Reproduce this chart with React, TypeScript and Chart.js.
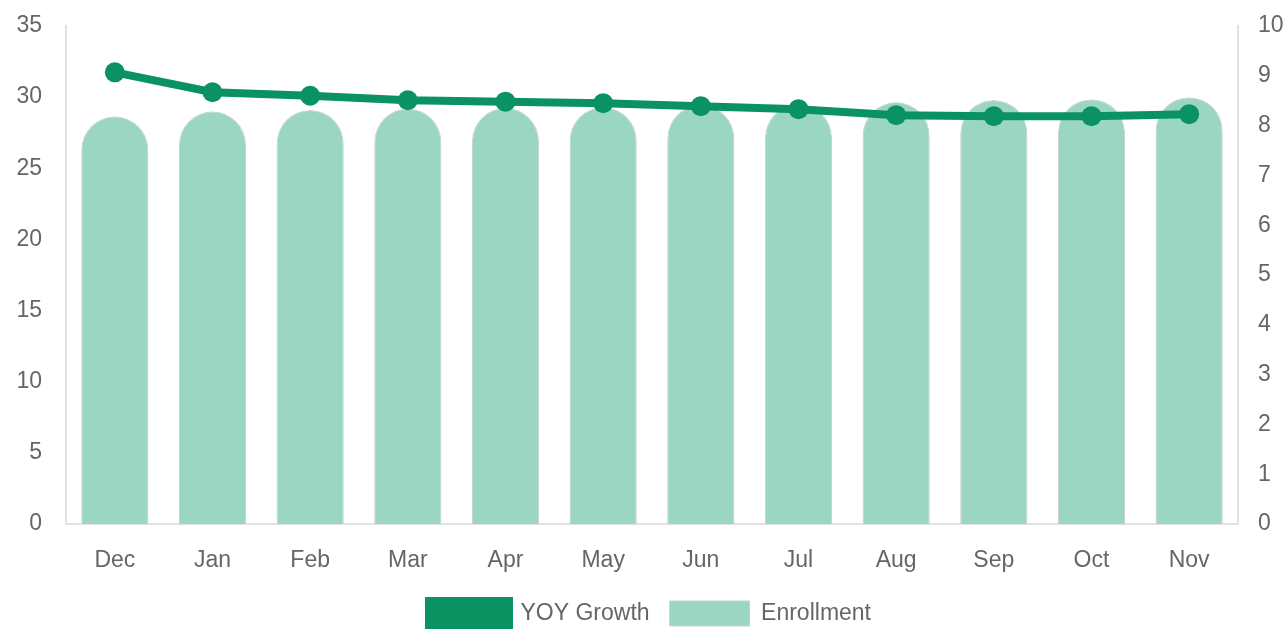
import React, { useEffect, useRef } from "react";
import { Chart, registerables } from "chart.js";

Chart.register(...registerables);

const categories = ["Dec", "Jan", "Feb", "Mar", "Apr", "May", "Jun", "Jul", "Aug", "Sep", "Oct", "Nov"];
const yoyGrowth = [9.07, 8.67, 8.6, 8.51, 8.48, 8.45, 8.39, 8.33, 8.21, 8.19, 8.19, 8.23];
const enrollment = [28.65, 29.0, 29.1, 29.2, 29.25, 29.3, 29.45, 29.5, 29.65, 29.8, 29.85, 30.0];
const leftTicks = [0, 5, 10, 15, 20, 25, 30, 35];
const rightTicks = [0, 1, 2, 3, 4, 5, 6, 7, 8, 9, 10];

export default function App() {
  const ref = useRef<HTMLCanvasElement | null>(null);
  useEffect(() => {
    if (!ref.current) return;
    const font = { family: "'Liberation Sans', Arial, Helvetica, sans-serif", size: 23 };
    const chart = new Chart(ref.current, {
      type: "bar",
      data: {
        labels: categories,
        datasets: [
          {
            type: "line",
            label: "YOY Growth",
            data: yoyGrowth,
            yAxisID: "y1",
            borderColor: "#0b9263",
            backgroundColor: "#0b9263",
            borderWidth: 8,
            pointRadius: 10,
            pointHoverRadius: 10,
            pointBackgroundColor: "#0b9263",
            pointBorderWidth: 0,
            tension: 0,
          },
          {
            type: "bar",
            label: "Enrollment",
            data: enrollment,
            yAxisID: "y",
            backgroundColor: "#9ad6c1",
            borderColor: "#c9d2cf",
            borderWidth: 1,
            borderRadius: 100,
            borderSkipped: "bottom",
            categoryPercentage: 0.8,
            barPercentage: 0.86,
          },
        ],
      },
      options: {
        animation: false,
        responsive: true,
        maintainAspectRatio: false,
        layout: { autoPadding: false, padding: { top: 26, left: 16, right: 3, bottom: 4 } },
        plugins: {
          tooltip: { enabled: false },
          legend: {
            position: "bottom",
            labels: {
              boxWidth: 80,
              boxHeight: 25,
              font,
              color: "#666",
              padding: 20,
            },
          },
        },
        scales: {
          x: {
            grid: { display: false, drawTicks: false },
            border: { display: true, color: "#e2e2e2", width: 2 },
            ticks: { font, color: "#666", padding: 23 },
            afterFit: (s: any) => {
              s.paddingLeft = 0;
              s.paddingRight = 0;
              s.height = 57;
            },
          },
          y: {
            position: "left",
            min: 0,
            max: 35,
            afterBuildTicks: (s: any) => {
              s.ticks = leftTicks.map((v) => ({ value: v }));
            },
            afterFit: (s: any) => {
              s.paddingTop = 0;
              s.paddingBottom = 0;
              s.width = 50;
            },
            grid: { display: false, drawTicks: false },
            border: { display: true, color: "#e2e2e2", width: 2 },
            ticks: { font, color: "#666", padding: 24 },
          },
          y1: {
            position: "right",
            min: 0,
            max: 10,
            afterBuildTicks: (s: any) => {
              s.ticks = rightTicks.map((v) => ({ value: v }));
            },
            afterFit: (s: any) => {
              s.paddingTop = 0;
              s.paddingBottom = 0;
              s.width = 46;
            },
            grid: { display: false, drawTicks: false },
            border: { display: true, color: "#e2e2e2", width: 2 },
            ticks: { font, color: "#666", padding: 20 },
          },
        },
      },
    });
    return () => chart.destroy();
  }, []);
  return (
    <div style={{ position: "fixed", top: 0, left: 0, width: 1287, height: 640 }}>
      <canvas ref={ref} />
    </div>
  );
}
